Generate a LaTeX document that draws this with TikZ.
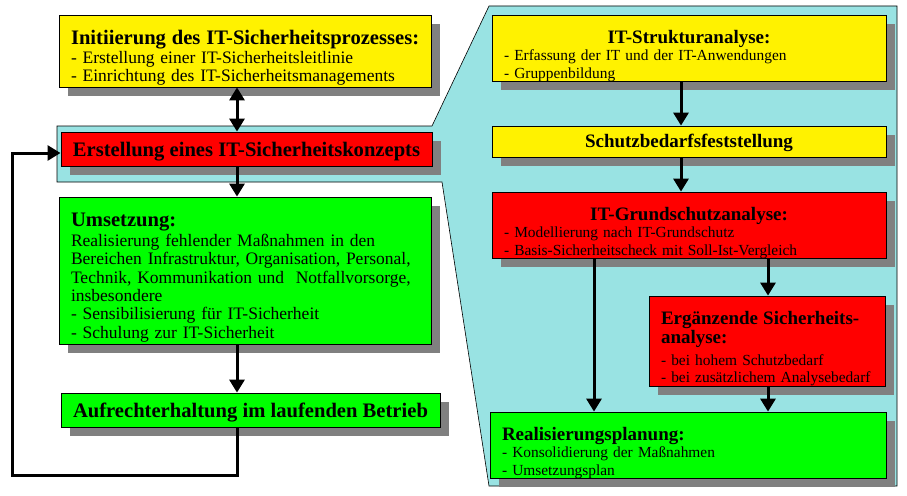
\documentclass[tikz,border=0pt]{standalone}
\usepackage{fontspec}
\setmainfont{Liberation Serif}
\usetikzlibrary{arrows.meta,shadows}
\setlength{\parindent}{0pt}
\definecolor{panel}{RGB}{153,227,227}
\definecolor{shade}{RGB}{128,128,128}
\newcommand{\lbigfont}{\fontsize{20.6}{22}\selectfont\bfseries}
\newcommand{\rbigfont}{\fontsize{19}{19}\selectfont\bfseries}
\begin{document}
\begin{tikzpicture}[x=1pt,y=-1pt,
		>={Triangle[width=15pt,length=13pt]},
		box/.style={draw=black,line width=0.8pt,inner ysep=0pt,inner xsep=12pt,
			drop shadow={shadow xshift=9pt,shadow yshift=-9pt,fill=shade,opacity=1}},
		lower/.style={execute at end node={\endgraf\vspace{-#1}}},
		lbig/.style={font=\lbigfont,text height=15pt,text depth=0pt},
		lsmall/.style={font=\fontsize{17.5}{18.4}\selectfont,lower=14pt},
		rsmall/.style={font=\fontsize{15.4}{17.5}\selectfont,lower=16pt},
		flow/.style={line width=3pt,->}]
		\useasboundingbox (0,0) rectangle (907,495);
		\fill[white] (0,0) rectangle (907,495);
		\draw[fill=panel,line width=0.6pt] (57,126) -- (432,126) -- (489,6) -- (897,6) -- (897,486) -- (489,486) -- (442,182) -- (57,182) -- cycle;
		\node[box,fill=yellow,lsmall,minimum width=372pt,minimum height=72pt,text width=348pt] (init) at (245,51)
			{\raggedright\mbox{\lbigfont Initiierung des IT-Sicherheitsprozesses:}\\- Erstellung einer IT-Sicherheitsleitlinie\\- Einrichtung des IT-Sicherheitsmanagements};
		\node[box,fill=red,lbig,minimum width=371pt,minimum height=34pt] (konzept) at (246.5,149) {Erstellung eines IT-Sicherheitskonzepts};
		\node[box,fill=green,lsmall,minimum width=372pt,minimum height=147pt,text width=348pt] (umsetz) at (245,270.5)
			{\raggedright{\lbigfont Umsetzung:}\\[1.5pt]Realisierung fehlender Maßnahmen in den\\Bereichen Infrastruktur, Organisation, Personal,\\Technik, Kommunikation und~ Notfallvorsorge,\\insbesondere\\- Sensibilisierung für IT-Sicherheit\\- Schulung zur IT-Sicherheit};
		\node[box,fill=green,lbig,minimum width=379pt,minimum height=34pt] (aufrecht) at (250.5,410) {Aufrechterhaltung im laufenden Betrieb};
		\node[box,fill=yellow,rsmall,minimum width=394pt,minimum height=66pt,text width=370pt] (struk) at (689,48)
			{\centering{\rbigfont IT-Strukturanalyse:}\par\raggedright- Erfassung der IT und der IT-Anwendungen\\- Gruppenbildung};
		\node[box,fill=yellow,font=\rbigfont,text height=12.5pt,text depth=0pt,minimum width=394pt,minimum height=31pt] (schutz) at (689,141.5) {Schutzbedarfsfeststellung};
		\node[box,fill=red,rsmall,minimum width=394pt,minimum height=66pt,text width=370pt] (grund) at (689,225)
			{\centering{\rbigfont IT-Grundschutzanalyse:}\par\raggedright- Modellierung nach IT-Grundschutz\\- Basis-Sicherheitscheck mit Soll-Ist-Vergleich};
		\node[box,fill=red,rsmall,minimum width=236pt,minimum height=90pt,text width=212pt] (ergaenz) at (767,341)
			{\raggedright{\rbigfont\noindent Ergänzende Sicherheits-\par\noindent analyse:\par}\vspace{4pt}- bei hohem Schutzbedarf\\- bei zusätzlichem Analysebedarf};
		\node[box,fill=green,rsmall,minimum width=396pt,minimum height=66pt,text width=372pt] (real) at (688,445)
			{\raggedright{\rbigfont Realisierungsplanung:}\\- Konsolidierung der Maßnahmen\\- Umsetzungsplan};
		\coordinate (laxis) at (237,0);
		\coordinate (raxis) at (681,0);
		\coordinate (paxis) at (594,0);
		\coordinate (eaxis) at (768,0);
		\coordinate (loop) at (12,475);
		\draw[flow,<->] (init.south -| laxis) -- (konzept.north -| laxis);
		\draw[flow] (konzept.south -| laxis) -- (umsetz.north -| laxis);
		\draw[flow] (umsetz.south -| laxis) -- (aufrecht.north -| laxis);
		\draw[flow] (aufrecht.south -| laxis) |- (loop) |- ([yshift=-4pt]konzept.west);
		\draw[flow] (struk.south -| raxis) -- (schutz.north -| raxis);
		\draw[flow] (schutz.south -| raxis) -- (grund.north -| raxis);
		\draw[flow] (grund.south -| paxis) -- (real.north -| paxis);
		\draw[flow] (grund.south -| eaxis) -- (ergaenz.north -| eaxis);
		\draw[flow] (ergaenz.south -| eaxis) -- (real.north -| eaxis);
\end{tikzpicture}
\end{document}
